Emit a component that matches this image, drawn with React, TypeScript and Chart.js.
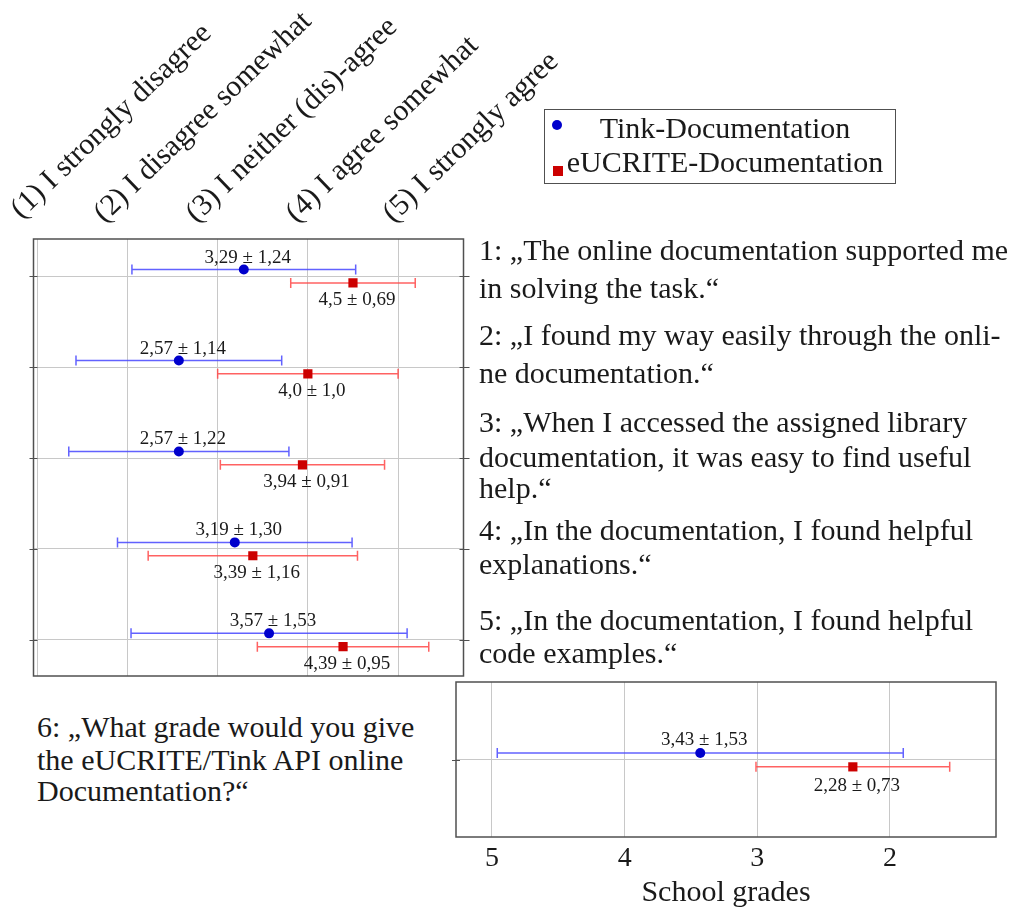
import React, { useEffect, useRef } from 'react';
import { Chart, registerables } from 'chart.js';

Chart.register(...registerables);

// ---------- data ----------
const questionIds = [1, 2, 3, 4, 5];
const likertTicks = [1, 2, 3, 4, 5];
const likertLabels = [
  '(1) I strongly disagree',
  '(2) I disagree somewhat',
  '(3) I neither (dis)-agree',
  '(4) I agree somewhat',
  '(5) I strongly agree',
];
const seriesNames = ['Tink-Documentation', 'eUCRITE-Documentation'];

const tinkMeans = [3.29, 2.57, 2.57, 3.19, 3.57];
const tinkSds = [1.24, 1.14, 1.22, 1.3, 1.53];
const tinkLabels = ['3,29 ± 1,24', '2,57 ± 1,14', '2,57 ± 1,22', '3,19 ± 1,30', '3,57 ± 1,53'];

const eucriteMeans = [4.5, 4.0, 3.94, 3.39, 4.39];
const eucriteSds = [0.69, 1.0, 0.91, 1.16, 0.95];
const eucriteLabels = ['4,5 ± 0,69', '4,0 ± 1,0', '3,94 ± 0,91', '3,39 ± 1,16', '4,39 ± 0,95'];

const gradeTicks = [5, 4, 3, 2];
const gradeTinkMean = [3.43];
const gradeTinkSd = [1.53];
const gradeTinkLabel = ['3,43 ± 1,53'];
const gradeEucriteMean = [2.28];
const gradeEucriteSd = [0.73];
const gradeEucriteLabel = ['2,28 ± 0,73'];
const gradeAxisTitle = 'School grades';

const questionTexts = [
  ['1: „The online documentation supported me', 'in solving the task.“'],
  ['2: „I found my way easily through the onli-', 'ne documentation.“'],
  ['3: „When I accessed the assigned library', 'documentation, it was easy to find useful', 'help.“'],
  ['4: „In the documentation, I found helpful', 'explanations.“'],
  ['5: „In the documentation, I found helpful', 'code examples.“'],
];
const gradeQuestion = ['6: „What grade would you give', 'the eUCRITE/Tink API online', 'Documentation?“'];

// ---------- styling ----------
const FONT = '"Liberation Serif", "Times New Roman", serif';
const TEXT = '#1a1a1a';
const BLUE = '#0000cc';
const RED = '#cc0000';
const BLUE_ERR = 'rgba(70,70,255,0.85)';
const RED_ERR = 'rgba(255,70,70,0.85)';
const GRID = '#c8c8c8';
const BORDER = '#505050';

const errorBarPlugin = {
  id: 'errorBars',
  beforeDatasetsDraw(chart: any) {
    const { ctx } = chart;
    const xs = chart.scales.x;
    const ys = chart.scales.y;
    chart.data.datasets.forEach((ds: any) => {
      ctx.save();
      ctx.strokeStyle = ds.errorColor;
      ctx.lineWidth = 1.5;
      ds.data.forEach((p: any, i: number) => {
        const e = ds.errors[i];
        const x0 = xs.getPixelForValue(p.x - e);
        const x1 = xs.getPixelForValue(p.x + e);
        const y = ys.getPixelForValue(p.y);
        ctx.beginPath();
        ctx.moveTo(x0, y);
        ctx.lineTo(x1, y);
        ctx.moveTo(x0, y - 5);
        ctx.lineTo(x0, y + 5);
        ctx.moveTo(x1, y - 5);
        ctx.lineTo(x1, y + 5);
        ctx.stroke();
      });
      ctx.restore();
    });
  },
  afterDatasetsDraw(chart: any) {
    const { ctx } = chart;
    const xs = chart.scales.x;
    const ys = chart.scales.y;
    chart.data.datasets.forEach((ds: any) => {
      ctx.save();
      ctx.fillStyle = TEXT;
      ctx.font = `19px ${FONT}`;
      ctx.textAlign = 'center';
      ctx.textBaseline = 'alphabetic';
      ds.data.forEach((p: any, i: number) => {
        const x = xs.getPixelForValue(p.x);
        const y = ys.getPixelForValue(p.y);
        ctx.fillText(ds.valueLabels[i], x + 4, y + ds.labelDy);
      });
      ctx.restore();
    });
  },
};

const boxPlugin = {
  id: 'frameBox',
  afterDraw(chart: any) {
    const { ctx, chartArea } = chart;
    const ys = chart.scales.y;
    const opts = chart.options.plugins.frameBox || {};
    ctx.save();
    ctx.strokeStyle = BORDER;
    ctx.lineWidth = 1.5;
    ctx.strokeRect(chartArea.left, chartArea.top, chartArea.right - chartArea.left, chartArea.bottom - chartArea.top);
    ctx.lineWidth = 1;
    ys.ticks.forEach((t: any) => {
      const y = Math.round(ys.getPixelForValue(t.value)) + 0.5;
      ctx.beginPath();
      ctx.moveTo(chartArea.left - 4, y);
      ctx.lineTo(chartArea.left + 4, y);
      if (opts.right) {
        ctx.moveTo(chartArea.right - 4, y);
        ctx.lineTo(chartArea.right + 6, y);
      }
      ctx.stroke();
    });
    ctx.restore();
  },
};

function TopChart() {
  const ref = useRef<HTMLCanvasElement>(null);
  useEffect(() => {
    const W = 480;
    const H = 690;
    const chart = new Chart(ref.current as HTMLCanvasElement, {
      type: 'scatter',
      data: {
        datasets: [
          {
            label: seriesNames[0],
            data: questionIds.map((q, i) => ({ x: tinkMeans[i], y: q - 0.072 })),
            errors: tinkSds,
            valueLabels: tinkLabels,
            labelDy: -7,
            errorColor: BLUE_ERR,
            pointStyle: 'circle',
            pointRadius: 5,
            backgroundColor: BLUE,
            borderWidth: 0,
          } as any,
          {
            label: seriesNames[1],
            data: questionIds.map((q, i) => ({ x: eucriteMeans[i], y: q + 0.075 })),
            errors: eucriteSds,
            valueLabels: eucriteLabels,
            labelDy: 22,
            errorColor: RED_ERR,
            pointStyle: 'rect',
            pointRadius: 6.5,
            backgroundColor: RED,
            borderWidth: 0,
          } as any,
        ],
      },
      options: {
        animation: false,
        responsive: false,
        events: [],
        layout: { padding: { left: 33.5, top: 239, right: W - 463.5, bottom: H - 676 } },
        plugins: { legend: { display: false }, tooltip: { enabled: false }, frameBox: { right: true } } as any,
        scales: {
          x: {
            type: 'linear',
            min: 0.959,
            max: 5.725,
            afterBuildTicks: (s: any) => {
              s.ticks = likertTicks.map((v) => ({ value: v }));
            },
            afterFit: (s: any) => {
              s.height = 0;
            },
            ticks: { display: false },
            grid: { color: GRID, lineWidth: 1, drawTicks: false },
            border: { display: false },
          },
          y: {
            type: 'linear',
            reverse: true,
            min: 0.592,
            max: 5.397,
            afterBuildTicks: (s: any) => {
              s.ticks = questionIds.map((v) => ({ value: v }));
            },
            afterFit: (s: any) => {
              s.width = 0;
            },
            ticks: { display: false },
            grid: { color: GRID, lineWidth: 1, drawTicks: false },
            border: { display: false },
          },
        },
      },
      plugins: [errorBarPlugin, boxPlugin],
    } as any);
    return () => chart.destroy();
  }, []);
  return (
    <canvas
      ref={ref}
      width={480}
      height={690}
      style={{ position: 'absolute', left: 0, top: 0, width: 480, height: 690 }}
    />
  );
}

function BottomChart() {
  const ref = useRef<HTMLCanvasElement>(null);
  useEffect(() => {
    const W = 581;
    const chart = new Chart(ref.current as HTMLCanvasElement, {
      type: 'scatter',
      data: {
        datasets: [
          {
            label: seriesNames[0],
            data: gradeTinkMean.map((m) => ({ x: m, y: -0.085 })),
            errors: gradeTinkSd,
            valueLabels: gradeTinkLabel,
            labelDy: -8,
            errorColor: BLUE_ERR,
            pointStyle: 'circle',
            pointRadius: 5,
            backgroundColor: BLUE,
            borderWidth: 0,
          } as any,
          {
            label: seriesNames[1],
            data: gradeEucriteMean.map((m) => ({ x: m, y: 0.095 })),
            errors: gradeEucriteSd,
            valueLabels: gradeEucriteLabel,
            labelDy: 24,
            errorColor: RED_ERR,
            pointStyle: 'rect',
            pointRadius: 6.5,
            backgroundColor: RED,
            borderWidth: 0,
          } as any,
        ],
      },
      options: {
        animation: false,
        responsive: false,
        events: [],
        layout: { padding: { left: 16, top: 12, right: W - 556, bottom: 0 } },
        plugins: { legend: { display: false }, tooltip: { enabled: false }, frameBox: { right: false } } as any,
        scales: {
          x: {
            type: 'linear',
            reverse: true,
            min: 1.201,
            max: 5.271,
            afterBuildTicks: (s: any) => {
              s.ticks = gradeTicks.map((v) => ({ value: v }));
            },
            afterFit: (s: any) => {
              s.height = 74;
            },
            ticks: { display: true, color: TEXT, padding: 5, font: { family: FONT, size: 28 }, maxRotation: 0 },
            title: { display: true, text: gradeAxisTitle, color: TEXT, font: { family: FONT, size: 30 }, padding: 0 },
            grid: { color: GRID, lineWidth: 1, drawTicks: false },
            border: { display: false },
          },
          y: {
            type: 'linear',
            reverse: true,
            min: -1,
            max: 1,
            afterBuildTicks: (s: any) => {
              s.ticks = [{ value: 0 }];
            },
            afterFit: (s: any) => {
              s.width = 0;
            },
            ticks: { display: false },
            grid: { color: GRID, lineWidth: 1, drawTicks: false },
            border: { display: false },
          },
        },
      },
      plugins: [errorBarPlugin, boxPlugin],
    } as any);
    return () => chart.destroy();
  }, []);
  return (
    <canvas
      ref={ref}
      width={581}
      height={241}
      style={{ position: 'absolute', left: 440, top: 670, width: 581, height: 241 }}
    />
  );
}

function TextLine({ text, x, baseline, size = 30 }: { text: string; x: number; baseline: number; size?: number }) {
  return (
    <div
      style={{
        position: 'absolute',
        left: x,
        top: baseline - Math.round(size * 0.837),
        fontFamily: FONT,
        fontSize: size,
        lineHeight: `${size}px`,
        color: TEXT,
        whiteSpace: 'nowrap',
      }}
    >
      {text}
    </div>
  );
}

const rotatedAnchors = [
  [25, 223],
  [108, 227],
  [200, 227],
  [300, 227],
  [397, 227],
];

const questionBaselines = [
  [260, 298],
  [345, 383],
  [432, 467, 498],
  [540, 574],
  [630, 663],
];
const gradeBaselines = [737, 770, 801];

export default function App() {
  return (
    <div
      style={{
        position: 'absolute',
        left: 0,
        top: 0,
        width: 1021,
        height: 911,
        overflow: 'hidden',
        background: '#fff',
      }}
    >
      <TopChart />
      <BottomChart />

      {likertLabels.map((lab, i) => (
        <div
          key={lab}
          style={{
            position: 'absolute',
            left: rotatedAnchors[i][0],
            top: rotatedAnchors[i][1] - 30,
            fontFamily: FONT,
            fontSize: 30,
            lineHeight: '30px',
            color: TEXT,
            whiteSpace: 'nowrap',
            transformOrigin: '0 100%',
            transform: 'rotate(-44deg)',
          }}
        >
          {lab}
        </div>
      ))}

      {/* legend */}
      <div
        style={{
          position: 'absolute',
          left: 544,
          top: 109,
          width: 350,
          height: 73,
          border: `1.5px solid ${BORDER}`,
          background: '#fff',
        }}
      >
        <div
          style={{
            position: 'absolute',
            left: 6.5,
            top: 9.5,
            width: 10,
            height: 10,
            borderRadius: 5,
            background: BLUE,
          }}
        />
        <div
          style={{ position: 'absolute', left: 8, top: 55.5, width: 10, height: 10, background: RED }}
        />
        <div
          style={{
            position: 'absolute',
            left: 0,
            width: 360,
            top: 28 - 25,
            textAlign: 'center',
            fontFamily: FONT,
            fontSize: 30,
            lineHeight: '30px',
            color: TEXT,
            whiteSpace: 'nowrap',
          }}
        >
          {seriesNames[0]}
        </div>
        <div
          style={{
            position: 'absolute',
            left: 0,
            width: 360,
            top: 62 - 25,
            textAlign: 'center',
            fontFamily: FONT,
            fontSize: 30,
            lineHeight: '30px',
            color: TEXT,
            whiteSpace: 'nowrap',
          }}
        >
          {seriesNames[1]}
        </div>
      </div>

      {questionTexts.map((lines, qi) =>
        lines.map((t, li) => <TextLine key={`${qi}-${li}`} text={t} x={479} baseline={questionBaselines[qi][li]} />)
      )}
      {gradeQuestion.map((t, li) => (
        <TextLine key={`g-${li}`} text={t} x={37} baseline={gradeBaselines[li]} />
      ))}
    </div>
  );
}
